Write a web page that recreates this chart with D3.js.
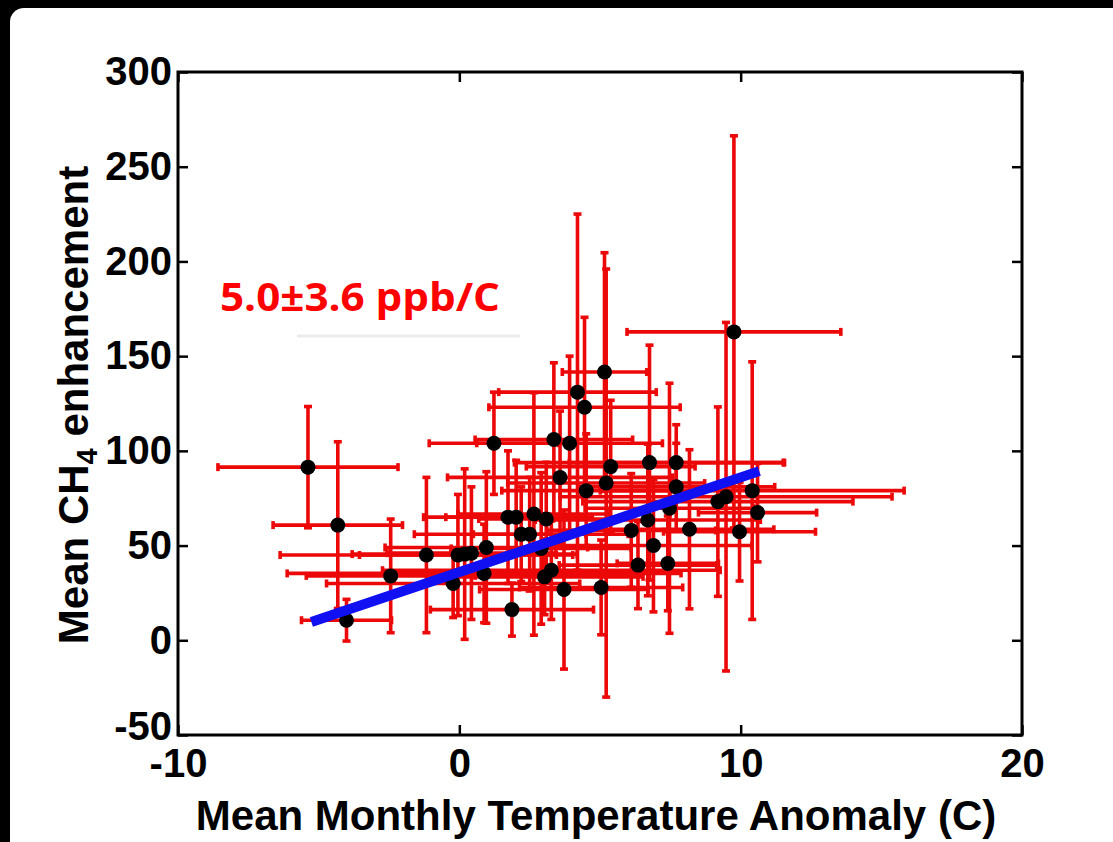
<!DOCTYPE html>
<html>
<head>
<meta charset="utf-8">
<script src="https://cdnjs.cloudflare.com/ajax/libs/d3/7.8.5/d3.min.js"></script>
<style>
  body { margin: 0; background: #000; }
  svg { display: block; }
</style>
</head>
<body>
<script>
// values (temperature anomaly in C, CH4 enhancement in ppb)
var tempAnom = [-5.38, -4.32, -4.01, -2.44, -1.17, -0.22, -0.05, 0.19, 0.43, 0.96, 0.88, 1.23, 1.73, 2.02, 1.87, 2.2, 2.5, 2.65, 2.91, 3.09, 3.03, 3.27, 3.36, 3.58, 3.72, 3.92, 4.2, 4.45, 4.51, 5.16, 5.22, 5.38, 5.04, 6.11, 6.35, 6.7, 6.76, 6.9, 7.41, 7.47, 7.71, 7.71, 8.18, 9.19, 9.48, 9.76, 9.96, 10.41, 10.6];
var ch4Enh = [91.4, 60.8, 10.6, 34, 45, 30, 45, 45.5, 46, 49, 35.3, 104, 65, 65, 16.2, 56, 56, 66.7, 48.5, 64, 33.5, 37, 106, 86, 26.8, 104, 131, 123, 79, 141.6, 83, 91.7, 27.9, 58, 39.7, 63.5, 93.8, 50, 40.6, 69.7, 93.8, 81, 58.6, 73.2, 75.8, 162.8, 57.3, 79, 67.4];
var tempErr = [3.2, 2.3, 1.6, 3.0, 5.2, 4.5, 3.5, 4.0, 3.0, 3.6, 7.0, 2.3, 3.0, 2.5, 2.9, 3.8, 2.0, 2.7, 3.2, 2.4, 3.5, 6.0, 2.8, 4.0, 3.0, 3.3, 2.8, 3.4, 3.0, 1.5, 3.5, 3.0, 2.9, 3.0, 2.8, 4.0, 4.8, 3.5, 1.8, 3.0, 3.8, 3.5, 3.0, 4.8, 5.9, 3.8, 2.7, 5.4, 2.1];
var ch4Err = [32, 44, 11, 30, 41, 18, 32, 45, 35, 40, 26, 27, 35, 30, 14, 25, 30, 64, 40, 30, 20, 26, 40.5, 35, 42, 46, 94, 47.5, 30, 63, 113, 35, 25, 30, 23, 40, 62, 35, 25, 66, 20, 23, 42, 50, 92, 103.5, 26, 68, 26];

// fitted line end points
var fitTemp = [-5.26, 10.66];
var fitCh4 = [9.7, 89.3];

var xTicks = [-10, 0, 10, 20];
var yTicks = [-50, 0, 50, 100, 150, 200, 250, 300];
var slopeLabel = "5.0\u00b13.6 ppb/C";

var W = 1113, H = 842;
// plot box (note: "top" is reserved on window, so use plotTop)
var plotLeft = 178, plotRight = 1022, plotTop = 72, plotBottom = 735;

var svg = d3.select("body").append("svg")
    .attr("width", W)
    .attr("height", H);

// black surround with white page
svg.append("rect").attr("width", W).attr("height", H).attr("fill", "#000");
svg.append("rect")
    .attr("x", 10).attr("y", 8)
    .attr("width", W - 10 + 20).attr("height", H - 8 + 20)
    .attr("rx", 14)
    .attr("fill", "#fff");

var x = d3.scaleLinear().domain([-10, 20]).range([plotLeft, plotRight]);
var y = d3.scaleLinear().domain([-50, 300]).range([plotBottom, plotTop]);

var pts = tempAnom.map(function(t, i) {
  return { t: t, c: ch4Enh[i], te: tempErr[i], ce: ch4Err[i] };
});

var red = "#ec0808";
var cap = 4;

// error bars
var bars = svg.append("g").attr("class", "errbars")
    .attr("stroke", red).attr("stroke-width", 3.6).attr("fill", "none");

pts.forEach(function(d) {
  var g = bars.append("g");
  var cx = x(d.t), cy = y(d.c);
  var y0 = y(d.c - d.ce), y1 = y(d.c + d.ce);
  var x0 = x(d.t - d.te), x1 = x(d.t + d.te);
  g.append("line").attr("x1", cx).attr("x2", cx).attr("y1", y0).attr("y2", y1);
  g.append("line").attr("x1", cx - cap).attr("x2", cx + cap).attr("y1", y0).attr("y2", y0);
  g.append("line").attr("x1", cx - cap).attr("x2", cx + cap).attr("y1", y1).attr("y2", y1);
  g.append("line").attr("x1", x0).attr("x2", x1).attr("y1", cy).attr("y2", cy);
  g.append("line").attr("x1", x0).attr("x2", x0).attr("y1", cy - cap).attr("y2", cy + cap);
  g.append("line").attr("x1", x1).attr("x2", x1).attr("y1", cy - cap).attr("y2", cy + cap);
});

// markers
svg.append("g").attr("class", "dots")
  .selectAll("circle")
  .data(pts)
  .enter().append("circle")
    .attr("cx", function(d) { return x(d.t); })
    .attr("cy", function(d) { return y(d.c); })
    .attr("r", 7.5)
    .attr("fill", "#000");

// regression line
var line = d3.line()
    .x(function(d) { return x(d[0]); })
    .y(function(d) { return y(d[1]); });

svg.append("path")
    .datum(fitTemp.map(function(t, i) { return [t, fitCh4[i]]; }))
    .attr("d", line)
    .attr("stroke", "#1010f2")
    .attr("stroke-width", 10)
    .attr("fill", "none");

// axes: ticks point inward, frame drawn separately
var font = "'Liberation Sans', Arial, sans-serif";
var plain = function(d) { return String(d); };

var xAxis = svg.append("g")
    .attr("transform", "translate(0," + plotBottom + ")")
    .call(d3.axisBottom(x).tickValues(xTicks).tickSize(-10).tickPadding(14).tickFormat(plain));
var xTopAxis = svg.append("g")
    .attr("transform", "translate(0," + plotTop + ")")
    .call(d3.axisTop(x).tickValues(xTicks).tickSize(-10).tickFormat(""));
var yAxis = svg.append("g")
    .attr("transform", "translate(" + plotLeft + ",0)")
    .call(d3.axisLeft(y).tickValues(yTicks).tickSize(-10).tickPadding(6).tickFormat(plain));
var yRightAxis = svg.append("g")
    .attr("transform", "translate(" + plotRight + ",0)")
    .call(d3.axisRight(y).tickValues(yTicks).tickSize(-10).tickFormat(""));

[xAxis, xTopAxis, yAxis, yRightAxis].forEach(function(a) {
  a.select(".domain").remove();
  a.selectAll(".tick line").attr("stroke", "#000").attr("stroke-width", 2.5);
  a.selectAll("text")
      .attr("fill", "#000")
      .style("font-family", font)
      .style("font-weight", "bold")
      .style("font-size", "40px");
});
// the -50 label sits a little above its tick
yAxis.selectAll(".tick").filter(function(d) { return d === -50; })
    .select("text").attr("dy", "0.1em");

svg.append("rect")
    .attr("x", plotLeft).attr("y", plotTop)
    .attr("width", plotRight - plotLeft).attr("height", plotBottom - plotTop)
    .attr("fill", "none")
    .attr("stroke", "#000")
    .attr("stroke-width", 3);

// axis titles
svg.append("text")
    .attr("x", (plotLeft + plotRight) / 2 - 4)
    .attr("y", 830)
    .attr("text-anchor", "middle")
    .style("font-family", font)
    .style("font-weight", "bold")
    .style("font-size", "42px")
    .text("Mean Monthly Temperature Anomaly (C)");

var yt = svg.append("text")
    .attr("transform", "translate(88,405) rotate(-90)")
    .attr("text-anchor", "middle")
    .style("font-family", font)
    .style("font-weight", "bold")
    .style("font-size", "42px");
yt.append("tspan").text("Mean CH");
yt.append("tspan").attr("dy", 9).style("font-size", "29px").text("4");
yt.append("tspan").attr("dy", -9).text(" enhancement");

// slope annotation
svg.append("line")
    .attr("x1", 297).attr("x2", 520).attr("y1", 336).attr("y2", 336)
    .attr("stroke", "#ececec").attr("stroke-width", 3);
svg.append("text")
    .attr("x", 220)
    .attr("y", 311)
    .attr("textLength", 280)
    .attr("lengthAdjust", "spacingAndGlyphs")
    .attr("fill", "#ff0000")
    .style("font-family", "'Open Sans', 'Noto Sans', sans-serif")
    .style("font-weight", "bold")
    .style("font-size", "40px")
    .text(slopeLabel);
</script>
</body>
</html>
